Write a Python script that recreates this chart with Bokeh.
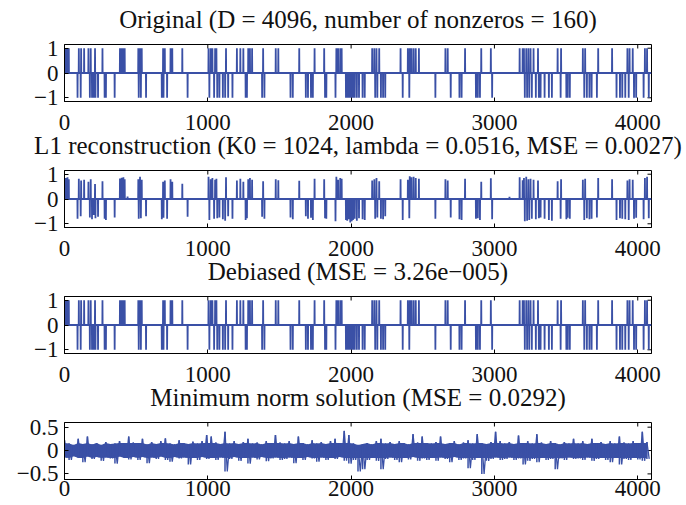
import numpy as np
from bokeh.plotting import figure
from bokeh.layouts import column
from bokeh.models import FixedTicker, Range1d
from bokeh.embed import file_html
from bokeh.resources import INLINE

N = 4096

# positions of +1 and -1 spikes
pos_up = [9, 21, 30, 100, 116, 137, 167, 183, 213, 265,
          387, 399, 411, 420, 515, 527, 539, 688, 700, 740,
          752, 822, 1005, 1020, 1032, 1051, 1060, 1127, 1203, 1227,
          1248, 1282, 1294, 1309, 1386, 1474, 1492, 1638, 1745, 1812,
          1897, 1909, 1924, 1934, 2147, 2162, 2177, 2196, 2345, 2396,
          2409, 2421, 2436, 2451, 2473, 2658, 2674, 2795, 2908, 2975,
          3176, 3197, 3206, 3222, 3237, 3252, 3273, 3304, 3441, 3465,
          3617, 3633, 3724, 3821, 3928, 3943, 3965, 4050, 4065]
pos_down = [91, 113, 177, 192, 204, 216, 234, 280, 289, 350,
            518, 533, 569, 679, 691, 716, 859, 1011, 1044, 1066,
            1081, 1105, 1121, 1142, 1172, 1264, 1273, 1379, 1395, 1577,
            1593, 1684, 1699, 1720, 1733, 1818, 1827, 1891, 1964, 1973,
            1985, 1994, 2004, 2013, 2025, 2040, 2055, 2080, 2095, 2168,
            2183, 2208, 2223, 2238, 2360, 2406, 2588, 2695, 2756, 2771,
            2871, 2884, 2899, 2984, 3212, 3228, 3243, 3261, 3289, 3310,
            3322, 3350, 3380, 3401, 3462, 3502, 3511, 3526, 3627, 3645,
            3663, 3678, 3715, 3852, 3876, 3892, 3913, 3937, 3974, 3989,
            4041, 4077]

# L1 reconstruction amplitudes at the same spikes
l1_up = [0.85, 0.88, 0.80, 0.82, 0.75, 0.78, 0.70, 0.80, 0.60, 0.72,
         0.83, 0.86, 0.88, 0.80, 0.80, 0.90, 0.78, 0.70, 0.75, 0.80,
         0.70, 0.62, 0.90, 0.80, 0.85, 0.78, 0.82, 0.88, 0.75, 0.82,
         0.70, 0.80, 0.85, 0.78, 0.72, 0.80, 0.76, 0.74, 0.82, 0.80,
         0.90, 0.78, 0.85, 0.82, 0.75, 0.80, 0.85, 0.72, 0.80, 0.78,
         0.92, 0.88, 0.90, 0.85, 0.82, 0.80, 0.75, 0.82, 0.70, 0.84,
         0.88, 0.76, 0.85, 0.90, 0.80, 0.82, 0.78, 0.75, 0.72, 0.80,
         0.78, 0.82, 0.85, 0.80, 0.75, 0.80, 0.78, 0.85, 0.90]
l1_down = [-0.80, -0.70, -0.75, -0.82, -0.65, -0.78, -0.72, -0.80, -0.85, -0.75,
           -0.80, -0.78, -0.70, -0.82, -0.76, -0.80, -0.72, -0.85, -0.80, -0.78,
           -0.75, -0.82, -0.88, -0.70, -0.80, -0.85, -0.78, -0.72, -0.80, -0.75,
           -0.82, -0.70, -0.80, -0.76, -0.85, -0.78, -0.80, -0.90, -0.85, -0.88,
           -0.82, -0.95, -0.90, -0.85, -0.80, -0.88, -0.78, -0.82, -0.85, -0.80,
           -0.75, -0.80, -0.82, -0.70, -0.85, -0.78, -0.80, -0.75, -0.82, -0.85,
           -0.80, -0.78, -0.85, -0.82, -0.90, -0.88, -0.85, -0.80, -0.82, -0.78,
           -0.75, -0.80, -0.85, -0.88, -0.80, -0.82, -0.76, -0.80, -0.85, -0.78,
           -0.82, -0.80, -0.75, -0.85, -0.78, -0.80, -0.82, -0.85, -0.80, -0.76,
           -0.82, -0.78]
l1_small_pos = [440, 2020, 3105]
l1_small_val = [0.10, -0.08, 0.09]

# minimum norm solution: upper / lower excursions every 32 samples
mn_hi = [0.22, 0.15, 0.12, 0.25, 0.14, 0.30, 0.13, 0.16, 0.12, 0.18, 0.14, 0.15, 0.20, 0.16, 0.30, 0.17,
         0.16, 0.25, 0.13, 0.18, 0.14, 0.20, 0.26, 0.15, 0.13, 0.22, 0.16, 0.14, 0.19, 0.15, 0.20, 0.33,
         0.30, 0.17, 0.14, 0.40, 0.15, 0.20, 0.14, 0.18, 0.25, 0.15, 0.17, 0.13, 0.20, 0.16, 0.33, 0.17,
         0.15, 0.20, 0.14, 0.30, 0.16, 0.13, 0.22, 0.15, 0.18, 0.14, 0.20, 0.25, 0.16, 0.42, 0.33, 0.15,
         0.12, 0.14, 0.16, 0.13, 0.20, 0.25, 0.15, 0.18, 0.14, 0.20, 0.16, 0.13, 0.35, 0.17, 0.30, 0.16,
         0.15, 0.18, 0.30, 0.14, 0.16, 0.20, 0.13, 0.17, 0.22, 0.15, 0.35, 0.16, 0.14, 0.18, 0.40, 0.20,
         0.15, 0.18, 0.14, 0.32, 0.16, 0.20, 0.15, 0.35, 0.17, 0.14, 0.20, 0.16, 0.13, 0.18, 0.15, 0.25,
         0.15, 0.20, 0.14, 0.25, 0.16, 0.18, 0.14, 0.20, 0.15, 0.30, 0.17, 0.15, 0.20, 0.16, 0.40, 0.18]
mn_lo = [-0.15, -0.20, -0.12, -0.16, -0.25, -0.13, -0.18, -0.14, -0.22, -0.15, -0.17, -0.28, -0.13, -0.16, -0.19, -0.14,
         -0.20, -0.14, -0.27, -0.15, -0.18, -0.13, -0.20, -0.24, -0.14, -0.17, -0.15, -0.30, -0.16, -0.20, -0.14, -0.18,
         -0.16, -0.20, -0.15, -0.45, -0.18, -0.14, -0.22, -0.16, -0.28, -0.15, -0.19, -0.14, -0.23, -0.17, -0.15, -0.20,
         -0.18, -0.15, -0.27, -0.16, -0.20, -0.14, -0.17, -0.24, -0.15, -0.20, -0.16, -0.18, -0.14, -0.22, -0.28, -0.20,
         -0.45, -0.40, -0.20, -0.16, -0.22, -0.40, -0.18, -0.15, -0.20, -0.25, -0.16, -0.19, -0.14, -0.22, -0.17, -0.20,
         -0.16, -0.22, -0.15, -0.18, -0.25, -0.14, -0.20, -0.17, -0.38, -0.20, -0.16, -0.50, -0.22, -0.18, -0.15, -0.20,
         -0.18, -0.15, -0.20, -0.17, -0.30, -0.22, -0.18, -0.25, -0.16, -0.20, -0.18, -0.40, -0.17, -0.20, -0.15, -0.18,
         -0.17, -0.20, -0.15, -0.22, -0.18, -0.16, -0.20, -0.25, -0.16, -0.30, -0.18, -0.20, -0.16, -0.19, -0.22, -0.18]
MN_STEP = 32

x_ticks = [0, 1000, 2000, 3000, 4000]
spike_ticks = [-1, 0, 1]
spike_labels = ["\u22121", "0", "1"]
mn_ticks = [-0.5, 0, 0.5]
mn_labels = ["\u22120.5", "0", "0.5"]

titles = ["Original (D = 4096, number of nonzeros = 160)",
          "L1 reconstruction (K0 = 1024, lambda = 0.0516, MSE = 0.0027)",
          "Debiased (MSE = 3.26e\u2212005)",
          "Minimum norm solution (MSE = 0.0292)"]

COLOR = "#3a50a6"
FONT = "Liberation Serif"
TXT = "#111111"
FRAME_W, FRAME_H = 587, 57
LEFT, RIGHT = 64, 35
TOP = 56
TICK = 4

idx = np.arange(N)
orig = np.zeros(N)
orig[pos_up] = 1.0
orig[pos_down] = -1.0

l1 = np.zeros(N)
l1[pos_up] = l1_up[:len(pos_up)]
l1[pos_down] = l1_down[:len(pos_down)]
l1[l1_small_pos] = l1_small_val

debiased = orig.copy()

mn_hi_a = np.array(mn_hi)
mn_lo_a = np.array(mn_lo)
mn_x = np.arange(len(mn_hi)) * MN_STEP
mn_x_lo = mn_x + MN_STEP // 2


def panel(title, yr, yt, yl, bottom, xstand, margin_top):
    height = TOP + FRAME_H + bottom
    p = figure(width=LEFT + FRAME_W + RIGHT, height=height, output_backend="svg",
               toolbar_location=None, tools="", x_range=Range1d(0, N), y_range=Range1d(*yr),
               min_border_left=LEFT, min_border_right=RIGHT, min_border_top=TOP,
               min_border_bottom=bottom, title=title, margin=(margin_top, 0, 0, 0))
    p.title.align = "center"
    p.title.vertical_align = "bottom"
    p.title.text_font = FONT
    p.title.text_font_size = "25px"
    p.title.text_font_style = "normal"
    p.title.text_color = TXT
    p.title.standoff = 23
    p.grid.visible = False
    p.outline_line_color = "black"
    p.outline_line_width = 1
    p.background_fill_color = "white"
    p.border_fill_color = None
    p.border_fill_alpha = 0
    for ax, ticks, labels, so in ((p.xaxis[0], x_ticks, None, xstand), (p.yaxis[0], yt, yl, 6)):
        ax.ticker = FixedTicker(ticks=ticks)
        if labels:
            ax.major_label_overrides = {t: l for t, l in zip(ticks, labels)}
        ax.major_tick_in = TICK
        ax.major_tick_out = 0
        ax.minor_tick_line_color = None
        ax.major_label_text_font = FONT
        ax.major_label_text_font_size = "23px"
        ax.major_label_text_color = TXT
        ax.major_label_standoff = so
        ax.axis_line_color = "black"
        ax.major_tick_line_color = "black"
    # inward tick marks on the top and right edges of the box
    dy = TICK * (yr[1] - yr[0]) / FRAME_H
    dx = TICK * N / FRAME_W
    p.segment(x0=x_ticks, y0=[yr[1]] * len(x_ticks), x1=x_ticks, y1=[yr[1] - dy] * len(x_ticks),
              line_color="black", line_width=1)
    p.segment(x0=[N] * len(yt), y0=yt, x1=[N - dx] * len(yt), y1=yt,
              line_color="black", line_width=1)
    return p


p1 = panel(titles[0], (-1.15, 1.15), spike_ticks, spike_labels, 45, 13, -12)
p1.line(idx, orig, line_color=COLOR, line_width=1.8)

p2 = panel(titles[1], (-1.15, 1.15), spike_ticks, spike_labels, 45, 13, -32)
p2.line(idx, l1, line_color=COLOR, line_width=1.8)

p3 = panel(titles[2], (-1.15, 1.15), spike_ticks, spike_labels, 45, 13, -32)
p3.line(idx, debiased, line_color=COLOR, line_width=1.8)

p4 = panel(titles[3], (-0.62, 0.6), mn_ticks, mn_labels, 26, 1, -32)
band_hi = np.clip(mn_hi_a, 0, 0.16)
band_lo = np.clip(mn_lo_a, -0.16, 0)
p4.varea(x=mn_x, y1=band_lo, y2=band_hi, fill_color=COLOR)
zz_x = np.empty(2 * len(mn_x))
zz_x[0::2] = mn_x
zz_x[1::2] = mn_x_lo
zz_y = np.empty(2 * len(mn_x))
zz_y[0::2] = mn_hi_a
zz_y[1::2] = mn_lo_a
p4.line(zz_x, zz_y, line_color=COLOR, line_width=1.3)
p4.segment(x0=mn_x, y0=mn_lo_a, x1=mn_x, y1=mn_hi_a, line_color=COLOR, line_width=1.5)

layout = column(p1, p2, p3, p4, spacing=0)

with open("out.html", "w") as f:
    f.write(file_html(layout, INLINE))
